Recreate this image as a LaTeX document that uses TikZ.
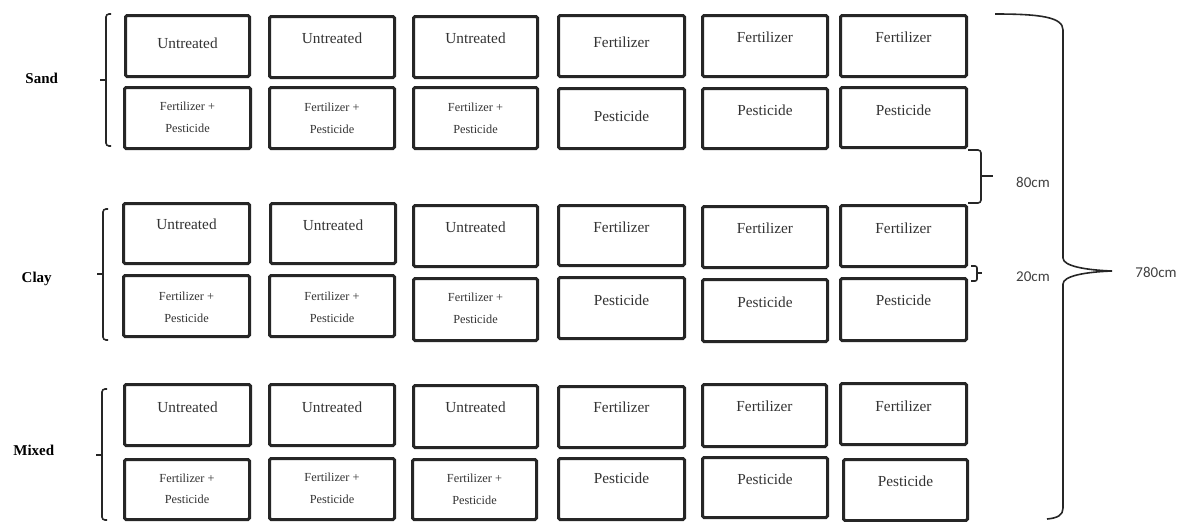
\documentclass[tikz,border=0pt]{standalone}
\usepackage{fontspec}
\setmainfont{Liberation Serif}
\newfontfamily\calfont{Carlito}
\definecolor{boxline}{HTML}{262626}
\definecolor{boxtext}{HTML}{333333}
\definecolor{cmtext}{HTML}{404040}
\tikzset{
  pbox/.style={draw=boxline, line width=3pt, rounded corners=1.5pt, inner sep=0pt, fill=white},
  ptext/.style={text=boxtext, inner sep=0pt, font=\fontsize{15.3}{18}\selectfont},
  psmall/.style={text=boxtext, inner sep=0pt, align=center, font=\fontsize{12.3}{21.5}\selectfont},
  soil/.style={text=black, inner sep=0pt, anchor=base, font=\fontsize{15}{18}\selectfont\bfseries},
  brk/.style={draw=boxline, line width=1.6pt, rounded corners=3pt},
  brace/.style={draw=boxline, line width=1.6pt},
  cmlabel/.style={text=cmtext, inner sep=0pt, font=\fontsize{15}{18}\selectfont\calfont}
}
\newcommand{\pbx}[8]{%
  \pgfmathsetmacro\pw{#4-#2-3}\pgfmathsetmacro\ph{#5-#3-3}%
  \pgfmathsetmacro\pcx{(#2+#4)/2}\pgfmathsetmacro\pcy{(#3+#5)/2}%
  \node[pbox, minimum width=\pw pt, minimum height=\ph pt] (#1) at (\pcx,\pcy) {};
  \node[#6] (#1t) at (\pcx,#7) {#8};
}
\begin{document}
\begin{tikzpicture}[x=1pt,y=-1pt]
\useasboundingbox (0,0) rectangle (1186,522);
% Sand
\pbx{a1}{124}{14}{251}{78}{ptext}{43}{Untreated}
\pbx{a2}{268}{15}{396}{79}{ptext}{38}{Untreated}
\pbx{a3}{412}{15}{539}{79}{ptext}{38}{Untreated}
\pbx{a4}{557}{14}{686}{78}{ptext}{42}{Fertilizer}
\pbx{a5}{701}{14}{829}{78}{ptext}{37}{Fertilizer}
\pbx{a6}{839}{14}{968}{78}{ptext}{37}{Fertilizer}
\pbx{b1}{123}{86}{252}{150}{psmall}{117.5}{Fertilizer +\\Pesticide}
\pbx{b2}{268}{86}{396}{150}{psmall}{118.5}{Fertilizer +\\Pesticide}
\pbx{b3}{412}{86}{539}{150}{psmall}{118.5}{Fertilizer +\\Pesticide}
\pbx{b4}{557}{87}{686}{150}{ptext}{116}{Pesticide}
\pbx{b5}{701}{87}{829}{150}{ptext}{110}{Pesticide}
\pbx{b6}{839}{86}{968}{149}{ptext}{110}{Pesticide}
% Clay
\pbx{c1}{122}{202}{251}{265}{ptext}{224}{Untreated}
\pbx{c2}{269}{202}{397}{265}{ptext}{225}{Untreated}
\pbx{c3}{412}{204}{539}{268}{ptext}{227}{Untreated}
\pbx{c4}{557}{204}{686}{267}{ptext}{227}{Fertilizer}
\pbx{c5}{701}{205}{829}{269}{ptext}{228}{Fertilizer}
\pbx{c6}{839}{204}{968}{268}{ptext}{228}{Fertilizer}
\pbx{d1}{122}{274}{251}{338}{psmall}{307.5}{Fertilizer +\\Pesticide}
\pbx{d2}{268}{274}{396}{338}{psmall}{307.5}{Fertilizer +\\Pesticide}
\pbx{d3}{412}{277}{539}{342}{psmall}{308.5}{Fertilizer +\\Pesticide}
\pbx{d4}{557}{276}{686}{340}{ptext}{300}{Pesticide}
\pbx{d5}{701}{278}{829}{343}{ptext}{302}{Pesticide}
\pbx{d6}{839}{277}{968}{342}{ptext}{300}{Pesticide}
% Mixed
\pbx{e1}{123}{383}{252}{447}{ptext}{407}{Untreated}
\pbx{e2}{268}{383}{396}{447}{ptext}{407}{Untreated}
\pbx{e3}{412}{384}{539}{449}{ptext}{407}{Untreated}
\pbx{e4}{557}{385}{686}{449}{ptext}{407}{Fertilizer}
\pbx{e5}{701}{383}{828}{448}{ptext}{406}{Fertilizer}
\pbx{e6}{839}{382}{968}{446}{ptext}{406}{Fertilizer}
\pbx{f1}{123}{458}{251}{521}{psmall}{489}{Fertilizer +\\Pesticide}
\pbx{f2}{268}{457}{396}{521}{psmall}{488.5}{Fertilizer +\\Pesticide}
\pbx{f3}{411}{458}{538}{521}{psmall}{489.5}{Fertilizer +\\Pesticide}
\pbx{f4}{557}{457}{686}{521}{ptext}{478}{Pesticide}
\pbx{f5}{701}{456}{829}{519}{ptext}{479}{Pesticide}
\pbx{f6}{842}{458}{969}{522}{ptext}{481}{Pesticide}
% soil labels
\node[soil] (sand) at (41.7,83) {Sand};
\node[soil] (clay) at (36.7,282) {Clay};
\node[soil] (mixed) at (33.8,455) {Mixed};
% left brackets
\draw[brk] (111,14) -- (106,14) -- (106,146) -- (111,146);
\draw[brk] (100,80) -- (106,80);
\draw[brk] (108,209) -- (103,209) -- (103,340) -- (108,340);
\draw[brk] (97,274) -- (103,274);
\draw[brk] (107,389) -- (102,389) -- (102,520) -- (107,520);
\draw[brk] (96,455) -- (102,455);
% right small brackets
\draw[brk] (968,150) -- (981,150) -- (981,203) -- (968,203);
\draw[brk] (981,176) -- (993,176);
\draw[brk, rounded corners=2pt] (971,266) -- (977,266) -- (977,281) -- (971,281);
\draw[brk] (977,273) -- (982,273);
% big brace
\draw[brace] (995,14) .. controls (1040,14) and (1063,17) .. (1063,30)
  -- (1063,258) .. controls (1063,266) and (1085,270) .. (1112,271)
  .. controls (1085,272) and (1063,276) .. (1063,284)
  -- (1063,508) .. controls (1063,515) and (1058,518) .. (1047,519);
% dimension labels
\node[cmlabel] (l80) at (1033,182) {80cm};
\node[cmlabel] (l20) at (1033,277) {20cm};
\node[cmlabel] (l780) at (1156,272) {780cm};
\end{tikzpicture}
\end{document}
